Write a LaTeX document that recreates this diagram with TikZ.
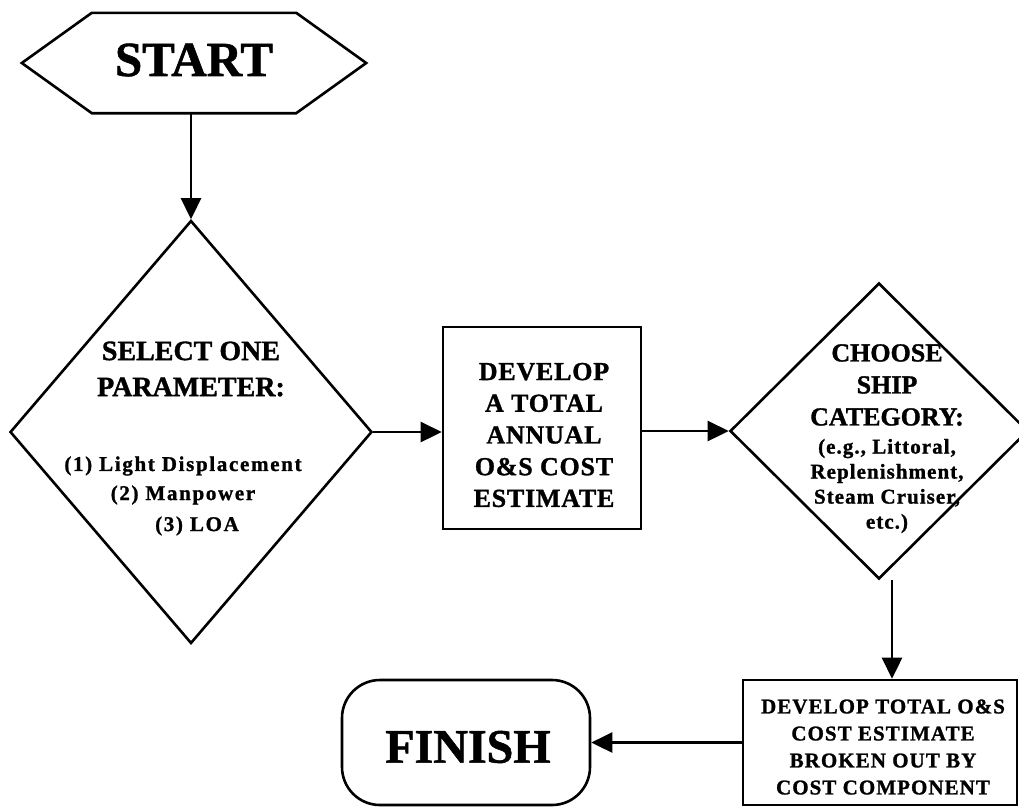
\documentclass[tikz,border=0pt]{standalone}
\usepackage{fontspec}
\setmainfont{Liberation Serif}[BoldFeatures={FakeBold=1.2}]
\usetikzlibrary{shapes.geometric,arrows.meta}
\newcommand{\fsz}[3]{\fontsize{#1}{#2}\selectfont\addfontfeature{LetterSpace=#3}}
\begin{document}
\begin{tikzpicture}[x=1pt,y=-1pt,
  shapebox/.style={draw, line width=2.6pt, inner sep=0pt},
  arr/.style={line width=2.6pt, -{Triangle[length=21pt,width=20pt]}},
  lbl/.style={align=center, inner sep=0pt},
]
\useasboundingbox (0,0) rectangle (1019,807);

% START hexagon
\node[inner sep=0pt, minimum width=344pt, minimum height=100pt] (start) at (194,63) {};
\draw[line width=2.6pt, line join=miter]
  (start.west) -- ([xshift=70pt]start.north west) -- ([xshift=-70pt]start.north east)
  -- (start.east) -- ([xshift=-70pt]start.south east) -- ([xshift=70pt]start.south west) -- cycle;
\node[lbl, font=\bfseries\fsz{49}{58}{0}] (starttxt) at (194,60) {START};

% Select parameter diamond
\node[diamond, shapebox, minimum width=362pt, minimum height=423pt] (sel) at (191,432) {};
\node[lbl, font=\bfseries\fsz{28}{36}{0}] (seltitle) at (191,369) {SELECT ONE\\PARAMETER:};
\node[lbl, font=\bfseries\fsz{21}{25}{8}] (p1) at (183,466) {(1) Light Displacement};
\node[lbl, font=\bfseries\fsz{21}{25}{8}] (p2) at (183,495) {(2) Manpower};
\node[lbl, font=\bfseries\fsz{21}{25}{8}] (p3) at (197,526) {(3) LOA};

% Develop total annual box
\node[rectangle, shapebox, minimum width=198pt, minimum height=202pt] (dev) at (542,428) {};
\node[lbl, font=\bfseries\fsz{26}{31.7}{3}] (devtxt) at (544,435) {DEVELOP\\A TOTAL\\ANNUAL\\O\&S COST\\ESTIMATE};

% Choose ship category diamond
\node[diamond, shapebox, minimum width=298pt, minimum height=296pt] (cat) at (879,431) {};
\node[lbl, font=\bfseries\fsz{26}{32}{0}] (cattitle) at (887,385) {CHOOSE\\SHIP\\CATEGORY:};
\node[lbl, font=\bfseries\fsz{21}{25}{5}] (catex) at (887,486) {(e.g., Littoral,\\Replenishment,\\Steam Cruiser,\\etc.)};

% Develop total O&S box
\node[rectangle, shapebox, minimum width=274pt, minimum height=125pt] (tot) at (880,742.5) {};
\node[lbl, font=\bfseries\fsz{21}{27}{5}] (tottxt) at (883,747) {DEVELOP TOTAL O\&S\\COST ESTIMATE\\BROKEN OUT BY\\COST COMPONENT};

% FINISH
\node[rectangle, shapebox, rounded corners=38pt, minimum width=248pt, minimum height=125pt] (fin) at (466,742.5) {};
\node[lbl, font=\bfseries\fsz{48}{58}{0}] (fintxt) at (468,747) {FINISH};

% connectors
\draw[arr] (sel.north |- start.south) -- (sel.north);
\draw[arr] (sel.east) -- (sel.east -| dev.west);
\draw[arr] (cat.west -| dev.east) -- (cat.west);
\coordinate (catout) at ([xshift=13pt]cat.south);
\draw[arr] (catout) -- (catout |- tot.north);
\draw[arr] (tot.west) -- (fin.east);
\end{tikzpicture}
\end{document}
